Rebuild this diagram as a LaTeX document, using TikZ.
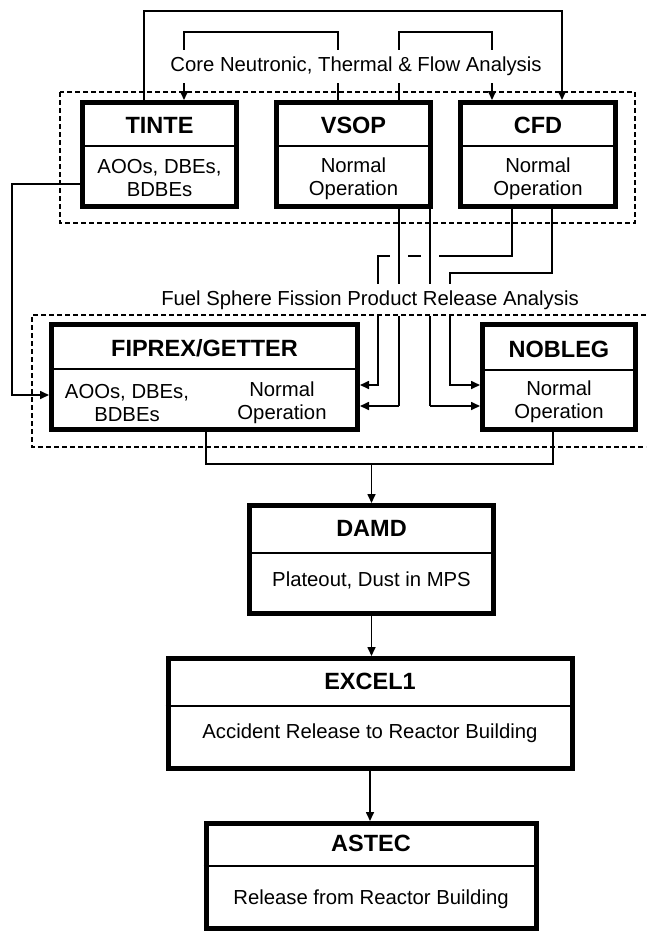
\documentclass[tikz,border=0pt]{standalone}
\usepackage{fontspec}
\setmainfont{Liberation Sans}
\usetikzlibrary{arrows.meta}

\begin{document}
\begin{tikzpicture}[x=1pt,y=-1pt]
\tikzstyle{every node}+=[inner sep=0pt]
\tikzstyle{box}=[draw=black, line width=5pt, minimum width=154pt, minimum height=104pt]
\tikzstyle{divider}=[black, line width=2pt]
\tikzstyle{boxtitle}=[font=\fontsize{23.5}{26}\selectfont\bfseries]
\tikzstyle{boxbody}=[font=\fontsize{20.3}{23}\selectfont, align=center]
\tikzstyle{link}=[black, line width=1.6pt]
\tikzstyle{linkarrow}=[link, -{Triangle[length=9pt,width=8pt]}]
\tikzstyle{hop}=[preaction={draw=white, line width=18pt, shorten <=14pt}]
\tikzstyle{caption}=[font=\fontsize{20.3}{23}\selectfont, fill=white, inner xsep=3pt, inner ysep=7pt]
\tikzstyle{group}=[black, line width=1.4pt, dash pattern=on 5pt off 3pt]
\useasboundingbox (0,0) rectangle (646,932);

% code boxes
\node[box] (tinte) at (159.5,154.5) {};
\node[box] (vsop) at (353.5,154.5) {};
\node[box, minimum width=155pt] (cfd) at (538,154.5) {};
\node[box, minimum width=306pt, minimum height=105pt] (fiprex) at (204.5,377) {};
\node[box, minimum width=153pt, minimum height=105pt] (nobleg) at (559,377) {};
\node[box, minimum width=244pt, minimum height=108pt] (damd) at (371.5,559.5) {};
\node[box, minimum width=404pt, minimum height=110pt] (excel) at (370,713.5) {};
\node[box, minimum width=330pt, minimum height=105pt] (astec) at (371,876) {};
\foreach \b/\y in {tinte/146, vsop/146, cfd/146, fiprex/369, nobleg/370, damd/553, excel/706, astec/866}
  \draw[divider] (\b.west |- 0,\y) -- (\b.east |- 0,\y);

\node[boxtitle] (tinteT) at (159.5,125) {TINTE};
\node[boxbody] (tinteB) at (159.5,178.5) {AOOs, DBEs,\\BDBEs};
\node[boxtitle] (vsopT) at (353.5,125) {VSOP};
\node[boxbody] (vsopB) at (353.5,178.5) {Normal\\Operation};
\node[boxtitle] (cfdT) at (538,125) {CFD};
\node[boxbody] (cfdB) at (538,178.5) {Normal\\Operation};
\node[boxtitle] (fiprexT) at (204.5,348) {FIPREX/GETTER};
\node[boxbody] (fiprexL) at (127,403) {AOOs, DBEs,\\BDBEs};
\node[boxbody] (fiprexR) at (282,403) {Normal\\Operation};
\node[boxtitle] (noblegT) at (559,349) {NOBLEG};
\node[boxbody] (noblegB) at (559,402) {Normal\\Operation};
\node[boxtitle] (damdT) at (371.5,528) {DAMD};
\node[boxbody] (damdB) at (371.5,580) {Plateout, Dust in MPS};
\node[boxtitle] (excelT) at (370,681) {EXCEL1};
\node[boxbody] (excelB) at (370,733) {Accident Release to Reactor Building};
\node[boxtitle] (astecT) at (371,843) {ASTEC};
\node[boxbody] (astecB) at (371,899) {Release from Reactor Building};

% core loops
\draw[linkarrow] ([xshift=-15.5]tinte.north) -- ++(0,-89) -| ([xshift=24]cfd.north);
\draw[linkarrow] ([xshift=-15.5]vsop.north) -- ++(0,-68) -| ([xshift=24.5]tinte.north);
\draw[linkarrow] ([xshift=45.5]vsop.north) -- ++(0,-68) -| ([xshift=-46]cfd.north);

% down to the release codes
\draw[linkarrow] ([yshift=-29.5]tinte.west) -- ++(-68,0) |- ([yshift=-18]fiprex.west);
\draw[linkarrow] ([xshift=-26]cfd.south) -- ++(0,47) -- ++(-134,0) |- ([yshift=-8]fiprex.east);
\draw[linkarrow] ([xshift=14]cfd.south) -- ++(0,64) -- ++(-102,0) |- ([yshift=-8]nobleg.west);
\coordinate (vsopA) at (399,406);
\coordinate (vsopB) at (430,406);
\draw[link, hop] ([xshift=45.5]vsop.south) -- (vsopA);
\draw[linkarrow] (vsopA) -- (fiprex.east |- vsopA);
\draw[link, hop] ([xshift=76.5]vsop.south) -- (vsopB);
\draw[linkarrow] (vsopB) -- (nobleg.west |- vsopB);

% chain
\coordinate (merge) at (371.5,464);
\draw[link] ([xshift=1.5]fiprex.south) -- ++(0,32) -| ([xshift=-6]nobleg.south);
\draw[linkarrow] (merge) -- (damd.north);
\draw[linkarrow] (damd.south) -- (damd.south |- excel.north);
\draw[linkarrow] (excel.south) -- (excel.south |- astec.north);

\node[caption] (coreL) at (356,66.5) {Core Neutronic, Thermal \& Flow Analysis};
\node[caption] (fuelL) at (370,300) {Fuel Sphere Fission Product Release Analysis};

\draw[group] (60,92) rectangle (635,223);
\draw[group] (646,315) -- (32,315) -- (32,447) -- (646,447);
\end{tikzpicture}
\end{document}
